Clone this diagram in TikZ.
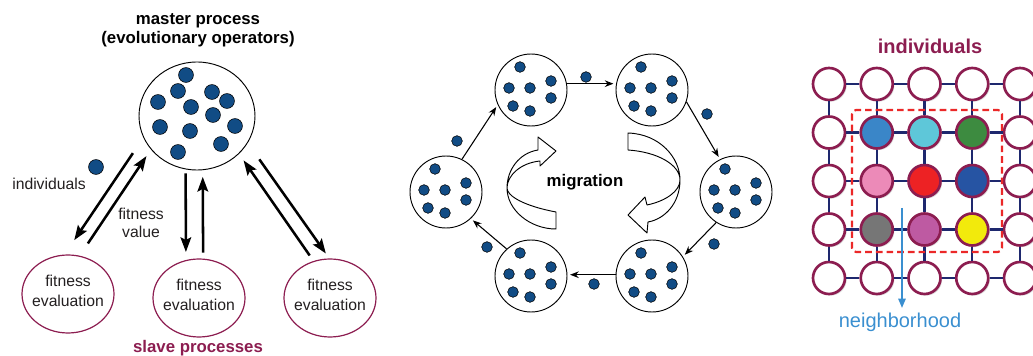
\documentclass[tikz,border=0pt]{standalone}
\usepackage{fontspec}
\setmainfont{Liberation Sans}
\usetikzlibrary{shapes.geometric,arrows.meta,shadows,positioning}

\definecolor{dotblue}{RGB}{17,76,133}
\definecolor{slavecol}{RGB}{140,29,80}
\definecolor{gridcol}{RGB}{30,40,110}
\definecolor{textcol}{RGB}{35,31,32}
\definecolor{hoodcol}{RGB}{235,40,40}
\definecolor{nbcol}{RGB}{58,143,208}
\definecolor{cellA}{RGB}{58,134,200}
\definecolor{cellB}{RGB}{94,199,217}
\definecolor{cellC}{RGB}{61,139,64}
\definecolor{cellD}{RGB}{236,138,184}
\definecolor{cellE}{RGB}{237,34,36}
\definecolor{cellF}{RGB}{38,84,163}
\definecolor{cellG}{RGB}{118,118,118}
\definecolor{cellH}{RGB}{190,90,162}
\definecolor{cellI}{RGB}{242,234,12}

\tikzstyle{pool} = [ellipse,draw,line width=0.7pt,minimum width=87pt,minimum height=81pt,inner sep=0pt]
\tikzstyle{evalnode} = [ellipse,draw=slavecol,line width=0.9pt,minimum width=69pt,minimum height=58.5pt,inner sep=-4pt,text depth=5pt,align=center,text=textcol,font=\fontsize{11.8}{14.5}\selectfont]
\tikzstyle{lbl} = [text=textcol,align=center,font=\fontsize{11.8}{13.5}\selectfont]
\tikzstyle{title} = [text=black,align=center,font=\bfseries\fontsize{12.6}{14.3}\selectfont]
\tikzstyle{dot} = [fill=dotblue,draw=black,line width=0.4pt]
\tikzstyle{bigarrow} = [line width=1.9pt,-{Stealth[length=11pt,width=8pt,inset=2pt]}]
\tikzstyle{island} = [circle,draw,line width=0.7pt,minimum size=54pt,inner sep=0pt]
\tikzstyle{migarrow} = [line width=0.8pt,-{Stealth[length=6.5pt,width=5pt]},shorten >=2pt]
\tikzstyle{ribbon} = [draw=black,fill=white,line width=0.7pt,line join=round]
\tikzstyle{cell} = [circle,draw=slavecol,line width=2pt,fill=white,minimum size=24pt,inner sep=0pt,drop shadow={shadow xshift=1.2pt,shadow yshift=-1.2pt,opacity=0.3}]
\tikzstyle{link} = [draw=gridcol,line width=1.8pt]

\begin{document}
\begin{tikzpicture}[x=0.75pt,y=-0.75pt]
\useasboundingbox (0,0) rectangle (1033,356);
\clip (0,0) rectangle (1033,356);

% master / slaves
\node[title] (mastertitle) at (198,30) {master process\\(evolutionary operators)};
\node[pool] (master) at (197,116) {};
\foreach \dx/\dy in {-11/-41,-19/-25,15/-24,-39/-14,30/-15,-6/-9,16/-1,-37/11,38/10,-7/15,24/28,-19/36}
  \draw[dot] ([shift={(\dx,\dy)}]master.center) circle (5.6pt);

\node[evalnode] (evalA) at (68,294) {fitness\\evaluation};
\node[evalnode] (evalB) at (199,298) {fitness\\evaluation};
\node[evalnode] (evalC) at (330,298) {fitness\\evaluation};
\node[title,text=slavecol] (slaves) at (198,348) {slave processes};

\draw[dot] (96,167) circle (5.6pt);
\node[lbl] (indlabel) at (49,184) {individuals};
\node[lbl] (fitlabel) at (141,223) {fitness\\value};

\draw[bigarrow,shorten <=14pt,shorten >=13pt] (master.202) -- (evalA.95);
\draw[bigarrow,shorten <=11pt,shorten >=6pt] (evalA.73) -- (master.216);
\draw[bigarrow,shorten <=3pt,shorten >=6pt] (master.258) -- (evalB.109);
\draw[bigarrow,shorten <=4.5pt,shorten >=5pt] (evalB.84) -- (master.276);
\draw[bigarrow,shorten <=5pt,shorten >=6pt] (evalC.114) -- (master.318);
\draw[bigarrow,shorten <=15pt,shorten >=4.5pt] (master.332) -- (evalC.91);

% islands
\foreach \n/\x/\y in {isl1/531/90,isl2/652/90,isl3/736/192,isl4/652/276,isl5/531/276,isl6/446/192}
  \node[island] (\n) at (\x,\y) {};
\foreach \n in {isl1,isl2,isl3,isl4,isl5,isl6}{
  \foreach \dx/\dy in {-11/-23,-22/-2,-1/-2,20/-9,20/8,-18/16,-1/21}
    \draw[dot] ([shift={(\dx,\dy)}]\n.center) circle (4pt);
}
\foreach \x/\y in {586/77,707/114,714/244,594/284,487/247,457/141}
  \draw[dot] (\x,\y) circle (4pt);

\draw[migarrow] (isl1.10) -- (isl2.170);
\draw[migarrow] (isl2.-19) -- (isl3.116);
\draw[migarrow] (isl3.237) -- (isl4.32);
\draw[migarrow] (isl4.178) -- (isl5.2);
\draw[migarrow] (isl5.132) -- (isl6.-47);
\draw[migarrow] (isl6.64) -- (isl1.204);

\draw[ribbon] (556,212) .. controls (524,206) and (507,196) .. (507,188)
  .. controls (507,176) and (520,163) .. (540,161) -- (540,166) -- (556,151) -- (538,137) -- (538,150)
  .. controls (519,153) and (507,170) .. (507,188) .. controls (507,210) and (530,229) .. (556,229) -- cycle;
\draw[ribbon] (628,133) .. controls (660,134) and (680,158) .. (680,180)
  .. controls (680,203) and (665,219) .. (648,222) -- (647,233) -- (628,215) -- (645,197) -- (647,205)
  .. controls (666,201) and (680,191) .. (680,180) .. controls (680,165) and (658,152) .. (628,150) -- cycle;
\node[title] (miglabel) at (585,182) {migration};

% cellular grid
\node[title,text=slavecol,font=\bfseries\fontsize{15}{18}\selectfont] (celltitle) at (930,46) {individuals};
\foreach \ri in {0,...,4}{
  \foreach \ci in {0,...,4}{
    \pgfmathtruncatemacro{\inner}{and(and(\ri>0,\ri<4),and(\ci>0,\ci<4))}
    \ifnum\inner=0 \node[cell] (g\ri\ci) at ({829+47.75*\ci},{84+48.5*\ri}) {};\fi
  }
}
\foreach \ri/\ci/\col in {1/1/cellA,1/2/cellB,1/3/cellC,2/1/cellD,2/2/cellE,2/3/cellF,3/1/cellG,3/2/cellH,3/3/cellI}
  \node[cell,fill=\col] (g\ri\ci) at ({829+47.75*\ci},{84+48.5*\ri}) {};
\foreach \ri in {0,...,4}{
  \foreach \ci in {0,...,3}{
    \pgfmathtruncatemacro{\cn}{\ci+1}
    \draw[link] (g\ri\ci) -- (g\ri\cn);
    \draw[link] (g\ci\ri) -- (g\cn\ri);
  }
}

\draw[hoodcol,line width=1.6pt,dash pattern=on 5pt off 3pt,rounded corners=3pt] (852,110) rectangle (1002,252);

\coordinate (nbtop) at (902,208);
\node[text=nbcol,font=\fontsize{15}{18}\selectfont] (nblabel) at (900,322) {neighborhood};
\draw[nbcol,line width=1.3pt,-{Triangle[length=7pt,width=5.5pt]}] (nbtop) -- (nbtop |- nblabel.north);

\end{tikzpicture}
\end{document}
